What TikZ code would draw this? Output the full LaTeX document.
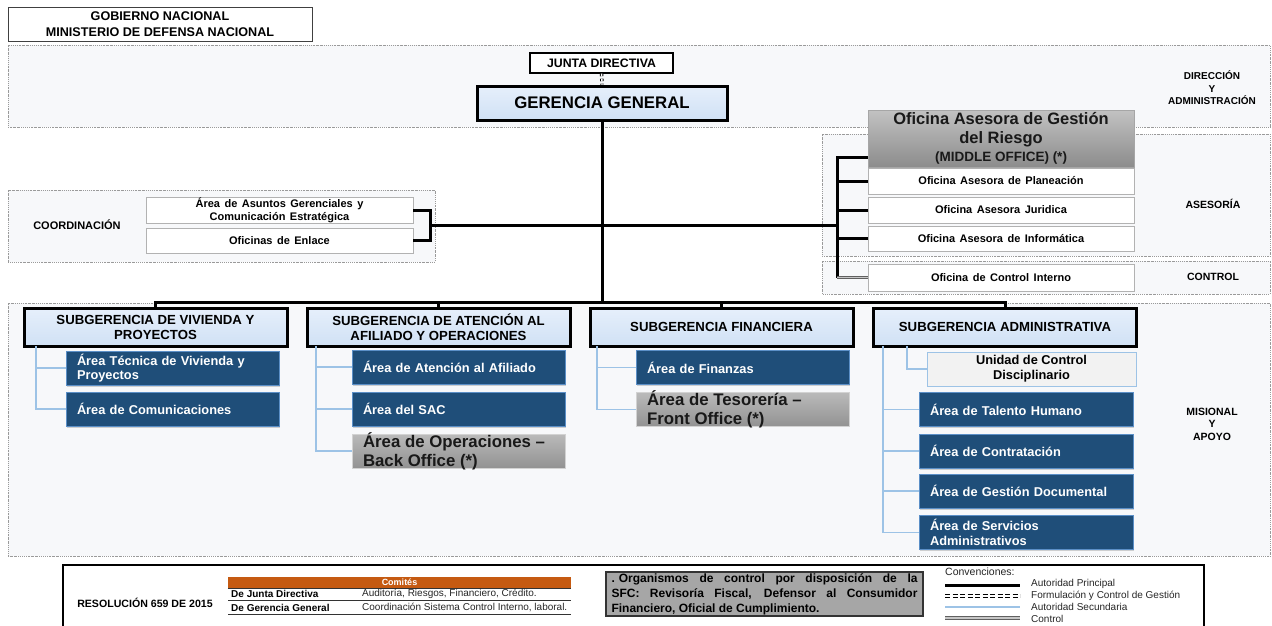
\documentclass[tikz,border=0pt]{standalone}
\usepackage{fontspec}
\setmainfont{Liberation Sans}
\usetikzlibrary{shadows,calc}
\definecolor{bandfill}{HTML}{F7F8FA}
\definecolor{bandline}{HTML}{9A9A9A}
\definecolor{ggtop}{HTML}{E6EFFB}
\definecolor{ggbot}{HTML}{D0E1F5}
\definecolor{dblue}{HTML}{1F4E79}
\definecolor{bborder}{HTML}{5B8FC7}
\definecolor{secblue}{HTML}{9DC3E6}
\definecolor{gtop}{HTML}{C2C2C2}
\definecolor{gbot}{HTML}{8C8C8C}
\definecolor{gtopb}{HTML}{BABABA}
\definecolor{gbotb}{HTML}{929292}
\definecolor{orangec}{HTML}{C55A11}
\definecolor{sfcgray}{HTML}{A6A6A6}
\newcommand{\myfs}[2]{\fontsize{#1}{#2}\selectfont}
\tikzset{
  band/.style={draw=bandline, line width=0.6pt, dash pattern=on 1.6pt off 1pt on 0.6pt off 1pt, fill=bandfill},
  mainline/.style={draw=black, line width=3pt},
  secline/.style={draw=secblue, line width=1.3pt},
  ctrlline/.style={draw=gray!75!black, line width=1.1pt, double=gray!45, double distance=1.3pt},
  formline/.style={draw=black, line width=1pt, double=white, double distance=1.5pt, dash pattern=on 2.5pt off 2.5pt},
  hdr/.style={draw=gray!50!black, line width=0.8pt, fill=white, minimum width=304pt, minimum height=34pt, align=center, font=\bfseries\myfs{12.6}{16}, inner sep=0pt},
  junta/.style={draw=black, line width=1.4pt, fill=white, minimum width=143pt, minimum height=20pt, font=\bfseries\myfs{12.3}{14}, inner sep=0pt},
  gg/.style={draw=black, line width=3pt, top color=ggtop, bottom color=ggbot, minimum width=250pt, minimum height=34pt, font=\bfseries\myfs{16.8}{19}, inner sep=0pt},
  grayhead/.style={draw=gray!70, line width=0.6pt, top color=gtop, bottom color=gbot, minimum width=266pt, minimum height=57pt, align=center, font=\bfseries\myfs{16.5}{18.5}, inner sep=0pt, text=black!90},
  ofi/.style={draw=gray!60, line width=0.8pt, fill=white, minimum width=266pt, minimum height=26pt, align=center, font={\bfseries\myfs{11}{13}\spaceskip=4.5pt plus 1pt}, inner sep=0pt},
  subg/.style={draw=black, line width=3pt, top color=ggtop, bottom color=ggbot, minimum width=263pt, minimum height=38pt, align=center, font=\bfseries\myfs{13.2}{15}, inner sep=0pt},
  bluebox/.style={fill=dblue, draw=bborder, line width=0.8pt, text=white, font=\bfseries\myfs{12.8}{14.5}, align=left, text width=191pt, inner xsep=11pt, inner ysep=0pt, minimum height=34pt, drop shadow={shadow xshift=1pt, shadow yshift=-1.5pt, opacity=0.35}},
  grayarea/.style={top color=gtopb, bottom color=gbotb, draw=gray!35, line width=0.5pt, text=black!90, font=\bfseries\myfs{16.8}{19}, inner xsep=11pt, inner ysep=0pt, minimum height=34pt},
  unidad/.style={fill=gray!10, draw=secblue, line width=1pt, minimum width=209pt, minimum height=34pt, align=center, font=\bfseries\myfs{12.8}{15}, inner sep=0pt},
  bandlabel/.style={font=\bfseries\myfs{10}{12.5}, align=center, inner sep=0pt},
  legtxt/.style={anchor=west, inner sep=0pt, font=\myfs{10}{11}, text=black!85},
}
\begin{document}
\begin{tikzpicture}[x=1pt,y=-1pt]
\useasboundingbox (0,0) rectangle (1272,625);
\fill[white] (0,0) rectangle (1272,625);
% bands
\path[band] (8,45) rectangle (1270,127);
\path[band] (822,134) rectangle (1270,256);
\path[band] (822,261) rectangle (1270,294);
\path[band] (8,190) rectangle (435,262);
\path[band] (8,303) rectangle (1270,556);

% header and top
\node[hdr] (hdr) at (160,24) {GOBIERNO NACIONAL\\MINISTERIO DE DEFENSA NACIONAL};
\node[junta] (junta) at (601.5,63) {JUNTA DIRECTIVA};
\node[gg] (gg) at (602,103) {GERENCIA GENERAL};
\node[bandlabel] (ldir) at (1212,88) {DIRECCIÓN\\Y\\ADMINISTRACIÓN};

% asesoria
\node[grayhead] (gest) at (1001,138.5) {Oficina Asesora de Gestión\\del Riesgo\\\myfs{13.5}{18.5}(MIDDLE OFFICE) (*)};
\node[ofi] (plan) at (1001,181) {Oficina Asesora de Planeación};
\node[ofi] (jur) at (1001,210) {Oficina Asesora Juridica};
\node[ofi, minimum height=25pt] (inf) at (1001,238.5) {Oficina Asesora de Informática};
\node[ofi, minimum height=27pt] (ci) at (1001,277.5) {Oficina de Control Interno};
\node[bandlabel, font=\bfseries\myfs{10.5}{12.5}] (lase) at (1213,204) {ASESORÍA};
\node[bandlabel, font=\bfseries\myfs{10.5}{12.5}] (lctl) at (1213,277) {CONTROL};

% coordinacion
\node[ofi, minimum width=267pt] (c1) at (279.5,210) {Área de Asuntos Gerenciales y\\Comunicación Estratégica};
\node[ofi, minimum width=267pt, minimum height=25pt] (c2) at (279.5,240.5) {Oficinas de Enlace};
\node[bandlabel, font=\bfseries\myfs{11}{13}] (lcoord) at (77,225) {COORDINACIÓN};

% subgerencias
\node[subg] (s1) at (155.5,327) {SUBGERENCIA DE VIVIENDA Y\\PROYECTOS};
\node[subg] (s2) at (438.5,327) {SUBGERENCIA DE ATENCIÓN AL\\AFILIADO Y OPERACIONES};
\node[subg] (s3) at (721.5,327) {SUBGERENCIA FINANCIERA};
\node[subg] (s4) at (1005,327) {SUBGERENCIA ADMINISTRATIVA};

% areas
\node[bluebox] (v1) at (172.5,368) {Área Técnica de Vivienda y\\Proyectos};
\node[bluebox] (v2) at (172.5,409) {Área de Comunicaciones};
\node[bluebox] (a1) at (458.5,367) {Área de Atención al Afiliado};
\node[bluebox] (a2) at (458.5,409) {Área del SAC};
\node[grayarea] (a3) at (458.5,451) {\parbox[c][34pt][c]{191pt}{\raggedright Área de Operaciones –\\Back Office (*)}};
\node[bluebox] (f1) at (742.5,367.5) {Área de Finanzas};
\node[grayarea] (f2) at (742.5,409.5) {\parbox[c][34pt][c]{191pt}{\raggedright Área de Tesorería –\\Front Office (*)}};
\node[unidad] (d0) at (1031.5,369) {Unidad de Control\\Disciplinario};
\node[bluebox, text width=192pt] (d1) at (1026,409.5) {Área de Talento Humano};
\node[bluebox, text width=192pt] (d2) at (1026,451) {Área de Contratación};
\node[bluebox, text width=192pt] (d3) at (1026,491) {Área de Gestión Documental};
\node[bluebox, text width=192pt] (d4) at (1026,532.5) {Área de Servicios\\Administrativos};
\node[bandlabel, font=\bfseries\myfs{10.5}{12.5}] (lmis) at (1212,424) {MISIONAL\\Y\\APOYO};

% connectors
\draw[formline] (junta.south) -- (gg.north);
\coordinate (barY) at (0,302);
\draw[mainline] (gg.south) -- (gg.south |- barY);
\draw[mainline] (s1.north) -- (s1.north |- barY) -- (s4.north |- barY) -- (s4.north);
\draw[mainline] (s2.north) -- (s2.north |- barY);
\draw[mainline] (s3.north) -- (s3.north |- barY);

\coordinate (cj) at (430,225);
\coordinate (aj) at (837,225);
\draw[mainline] (c1.east) -| (cj |- c2.east) -- (c2.east);
\draw[mainline] (cj) -- (aj);
\coordinate (at) at (837,157);
\coordinate (ab) at (837,277.5);
\draw[mainline] (gest.west |- at) -- (at) -- (ab);
\draw[mainline] (plan.west -| at) -- (plan.west);
\draw[mainline] (jur.west -| at) -- (jur.west);
\draw[mainline] (inf.west -| at) -- (inf.west);
\draw[ctrlline] (ab) -- (ci.west);

\coordinate (vs) at (36,346);
\draw[secline] (vs) |- (v1.west);
\draw[secline] (vs) |- (v2.west);
\coordinate (as) at (316,346);
\draw[secline] (as) |- (a1.west);
\draw[secline] (as) |- (a2.west);
\draw[secline] (as) |- (a3.west);
\coordinate (fs) at (597,346);
\draw[secline] (fs) |- (f1.west);
\draw[secline] (fs) |- (f2.west);
\coordinate (ds) at (883,346);
\draw[secline] (ds) |- (d1.west);
\draw[secline] (ds) |- (d2.west);
\draw[secline] (ds) |- (d3.west);
\draw[secline] (ds) |- (d4.west);
\coordinate (du) at (907,346);
\draw[secline] (du) |- (d0.west);

% legend
\draw[line width=1.5pt] (63,565) rectangle (1204,630);
\node[font=\bfseries\myfs{10.6}{12}, inner sep=0pt] (res) at (145,603) {RESOLUCIÓN 659 DE 2015};
\node[fill=orangec, minimum width=343pt, minimum height=11pt, inner sep=0pt, text=white, font=\bfseries\myfs{9}{10}] (com) at (399.5,582.5) {Comités};
\draw[line width=1pt, black!80] (com.south west) -- (com.south east);
\node[legtxt, font=\bfseries\myfs{10}{11}, text=black] (r1a) at (231,594) {De Junta Directiva};
\node[legtxt] (r1b) at (362,594) {Auditoría, Riesgos, Financiero, Crédito.};
\node[legtxt, font=\bfseries\myfs{10}{11}, text=black] (r2a) at (231,607.5) {De Gerencia General};
\node[legtxt] (r2b) at (362,607.5) {Coordinación Sistema Control Interno, laboral.};
\draw[line width=1.5pt, black!80] (228,600.5) -- (571,600.5);
\draw[line width=1.5pt, black!80] (228,614.5) -- (571,614.5);

\node[fill=sfcgray, draw=gray!40!black, line width=1.2pt, minimum width=317pt, minimum height=44pt, inner sep=0pt, font=\bfseries\myfs{12}{15}] (sfc) at (764.5,594) {\parbox{306pt}{\makebox[306pt][s]{.\kern4pt Organismos de control por disposición de la}\\\makebox[306pt][s]{SFC: Revisoría Fiscal, Defensor al Consumidor}\\Financiero, Oficial de Cumplimiento.}};

\node[legtxt, font=\myfs{10.5}{12}] (conv) at (945,572) {Convenciones:};
\coordinate (l1a) at (945,585); \coordinate (l1b) at (1020,585);
\coordinate (l2a) at (945,596); \coordinate (l2b) at (1020,596);
\coordinate (l3a) at (945,607); \coordinate (l3b) at (1020,607);
\coordinate (l4a) at (945,618); \coordinate (l4b) at (1020,618);
\draw[mainline] (l1a) -- (l1b);
\draw[formline, dash pattern=on 5pt off 2.5pt] (l2a) -- (l2b);
\draw[secline] (l3a) -- (l3b);
\draw[ctrlline] (l4a) -- (l4b);
\node[legtxt] (t1) at (1031,584) {Autoridad Principal};
\node[legtxt] (t2) at (1031,595.5) {Formulación y Control de Gestión};
\node[legtxt] (t3) at (1031,607) {Autoridad Secundaria};
\node[legtxt] (t4) at (1031,618.5) {Control};
\end{tikzpicture}
\end{document}
